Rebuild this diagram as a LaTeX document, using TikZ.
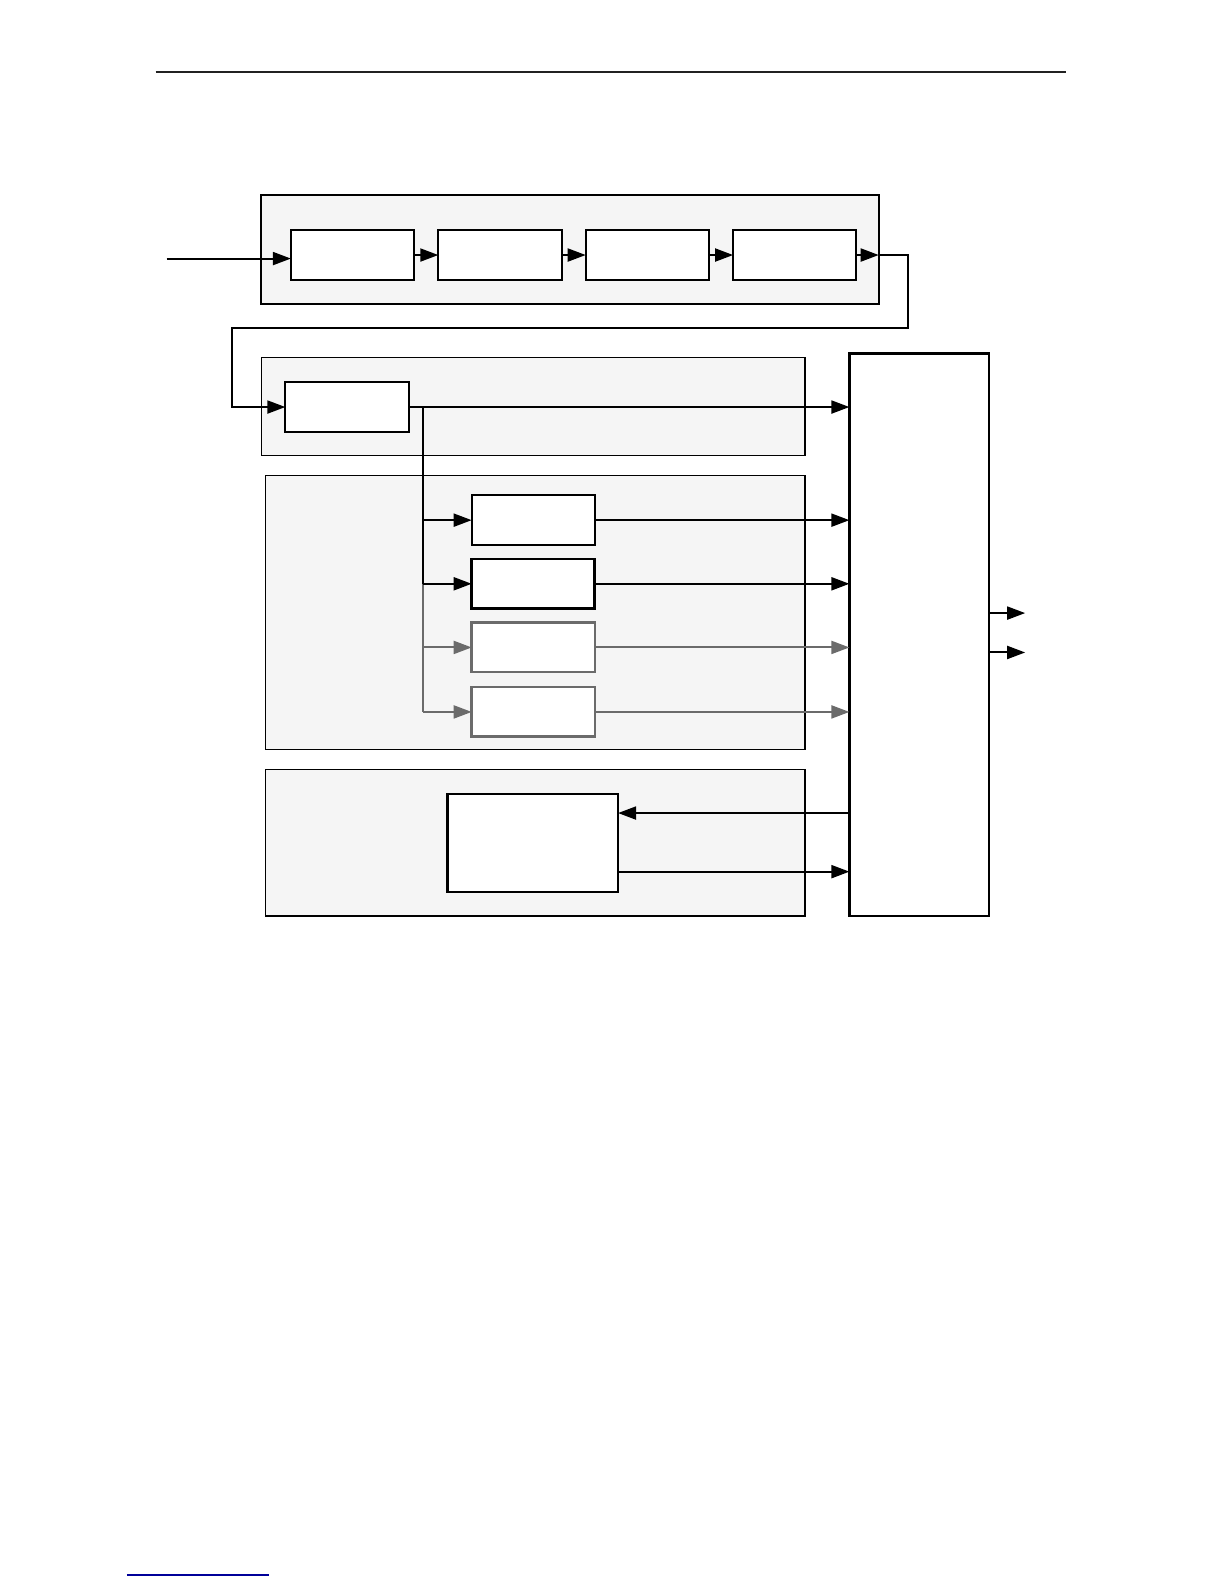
\documentclass[tikz,border=0pt]{standalone}
\usepackage{tikz}
\usetikzlibrary{calc, positioning, arrows.meta}

\begin{document}
\begin{tikzpicture}[x=0.505pt,y=-0.505pt,inner sep=0pt,outer sep=0pt,
  >={Triangle[length=9pt,width=6.5pt]},
  grp/.style={fill=black!4,draw=black,line width=.6pt},
  blk/.style={draw,fill=white,line width=1pt,minimum width=61.6pt,minimum height=24.75pt},
  gblk/.style={blk,draw=black!58,line width=1.2pt},
  wire/.style={line width=1pt},
  gwire/.style={line width=1pt,draw=black!58,-{Triangle[length=9pt,width=6.5pt,fill=black!58]}}]
\useasboundingbox (0pt,0pt) rectangle (612pt,-792pt);
% page rules
\draw [line width=1pt,black!87] (154,71) -- (1055,71);
\draw [line width=.7pt,blue!60!black] (125.7,1559.4) -- (266.3,1559.4);
% group frames
\draw [grp,line width=1pt] (258,193) rectangle (870,301);
\draw [grp] (259,354) rectangle (797,451);
\draw [grp] (263,471) rectangle (797,742);
\draw [grp] (263,762) rectangle (797,907);
% chain of four
\node [blk] (b1) at (349,252.5) {};
\node [blk] [right=12.1pt of b1] (b2) {};
\node [blk] [right=12.1pt of b2] (b3) {};
\node [blk] [right=12.1pt of b3] (b4) {};
\coordinate (src)  at (165,256);
\coordinate (exit) at (870,252.5);
\coordinate (turn) at (899,325);
\coordinate (back) at (230,325);
\draw [wire,->] (src) -- (src -| b1.west);
\draw [wire,->] (b1) -- (b2);
\draw [wire,->] (b2) -- (b3);
\draw [wire,->] (b3) -- (b4);
\draw [wire,->] (b4) -- (exit);
% big collector
\node [draw,fill=white,line width=1.3pt,minimum width=69.7pt,minimum height=281.3pt] (sum) at (910,628.5) {};
% splitter
\node [blk] (b5) at (343.5,403) {};
\draw [wire,->] (exit) -| (turn) -- (back) |- (b5.west);
\draw [wire,->] (b5) -- (sum.west |- b5);
\coordinate [right=7.1pt of b5.east] (fork);
% four branches
\node [blk] (b6) at (528,515) {};
\node [blk,line width=1.4pt] [below=7.07pt of b6] (b7) {};
\node [gblk] [below=7.07pt of b7] (b8) {};
\node [gblk] [below=7.5pt of b8] (b9) {};
\draw [wire] (fork) -- (fork |- b7);
\draw [line width=1pt,black!58] (fork |- b7) -- (fork |- b9);
\draw [wire,->] (fork |- b6) -- (b6);
\draw [wire,->] (fork |- b7) -- (b7);
\draw [gwire] (fork |- b8) -- (b8);
\draw [gwire] (fork |- b9) -- (b9);
\draw [wire,->] (b6) -- (sum.west |- b6);
\draw [wire,->] (b7) -- (sum.west |- b7);
\draw [gwire] (b8) -- (sum.west |- b8);
\draw [gwire] (b9) -- (sum.west |- b9);
% feedback block
\node [blk,line width=1.3pt,minimum width=85.3pt,minimum height=49pt] (b10) at (527.5,834.5) {};
\coordinate (b10in)  at ($(b10.north east)+(0,19)$);
\coordinate (b10out) at ($(b10.south east)+(0,-20)$);
\draw [wire,->] (sum.west |- b10in) -- (b10in);
\draw [wire,->] (b10out) -- (sum.west |- b10out);
% outputs
\coordinate (o1) at ($(sum.east)+(0,-21.5)$);
\coordinate (o2) at ($(sum.east)+(0,17.5)$);
\draw [wire,->] (o1) -- ++(36,0);
\draw [wire,->] (o2) -- ++(36,0);
\end{tikzpicture}
\end{document}
